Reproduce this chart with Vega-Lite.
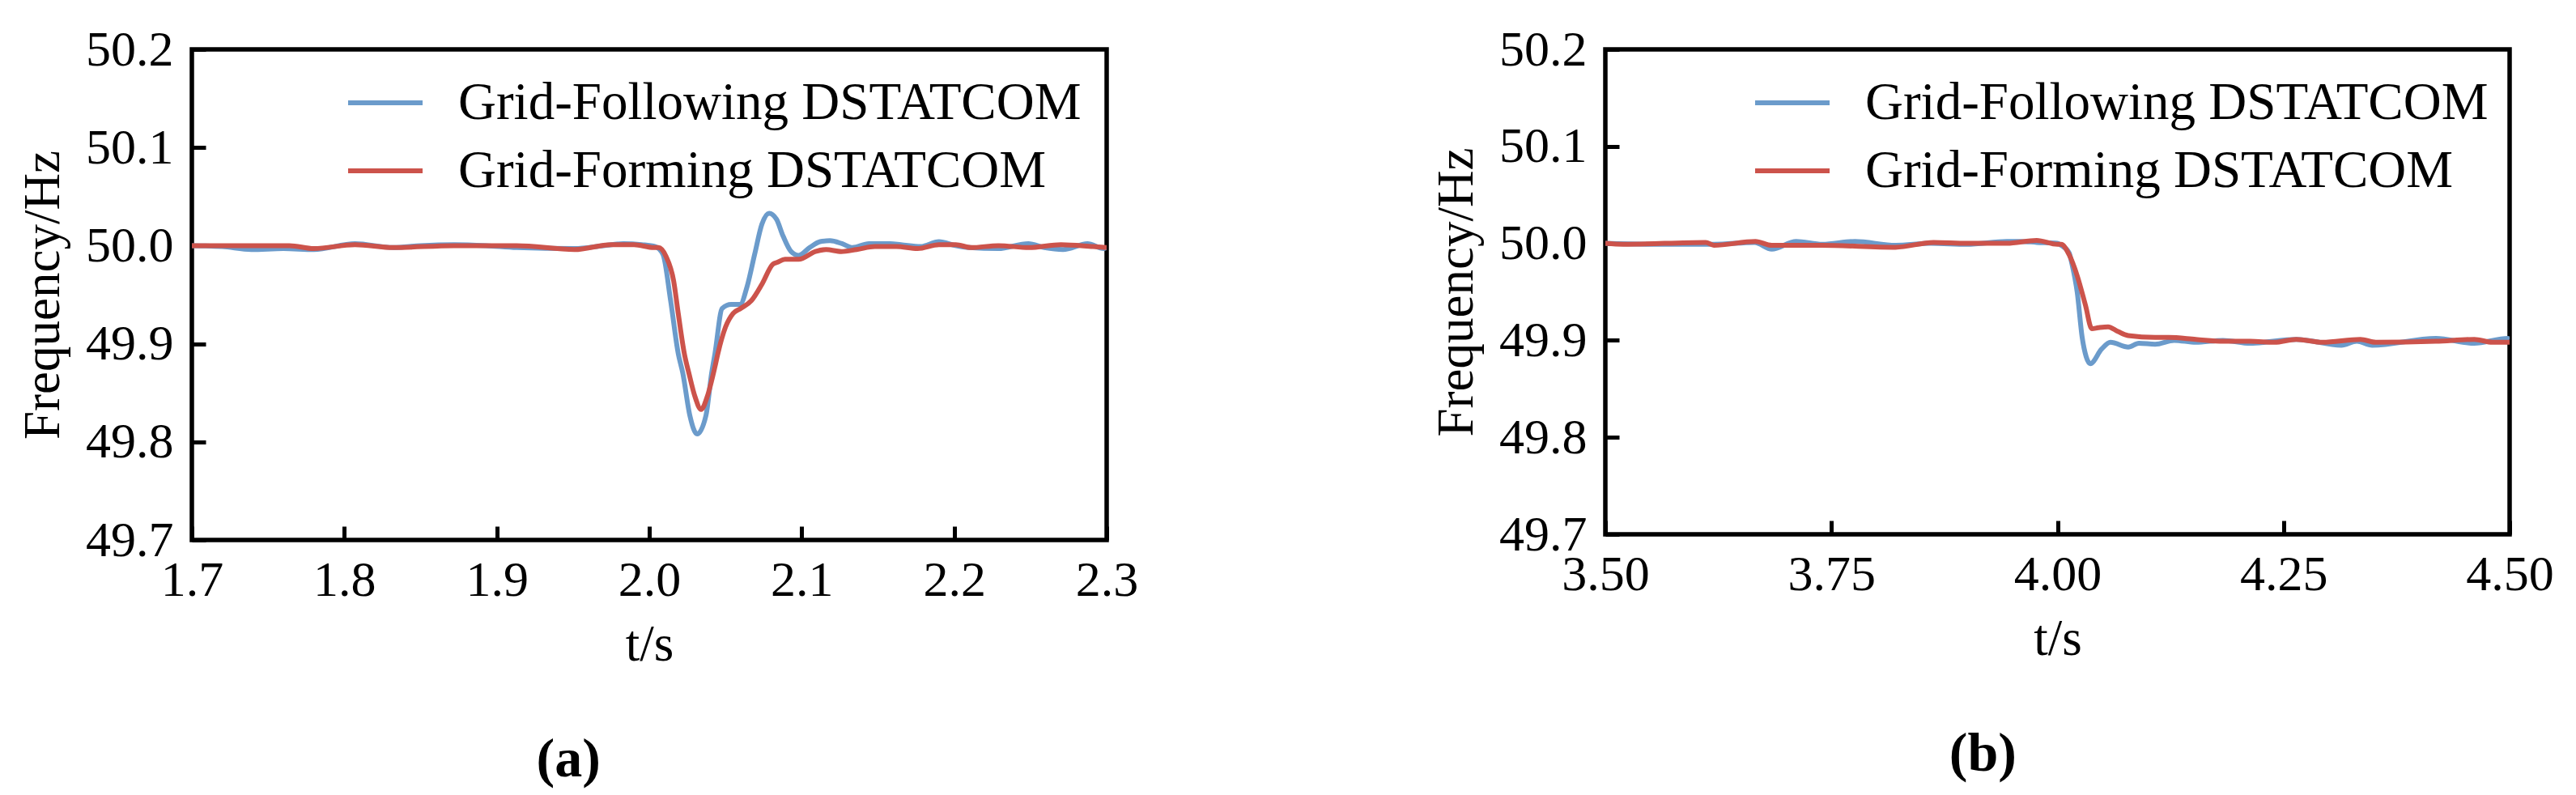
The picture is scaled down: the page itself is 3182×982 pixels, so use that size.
{
  "$schema": "https://vega.github.io/schema/vega-lite/v6.json",
  "background": "white",
  "padding": {"left": 19, "top": 27, "right": 5, "bottom": 5},
  "config": {
    "font": "Liberation Serif",
    "view": {"stroke": "black", "strokeWidth": 5.5},
    "axis": {
      "domain": false, "grid": false,
      "ticks": true, "tickSize": -17, "tickWidth": 5, "tickColor": "black",
      "labelFont": "Liberation Serif", "labelFontSize": 62, "labelColor": "black",
      "labelFlush": false, "labelOverlap": false,
      "titleFont": "Liberation Serif", "titleFontSize": 63, "titleFontWeight": "normal", "titleColor": "black"
    },
    "axisX": {"labelPadding": 36, "titlePadding": 18},
    "axisY": {"labelPadding": 40, "titlePadding": 20},
    "legend": {
      "padding": 0, "symbolType": "stroke", "symbolSize": 8464, "symbolStrokeWidth": 6,
      "labelFont": "Liberation Serif", "labelFontSize": 65, "labelColor": "black", "labelOffset": 41,
      "rowPadding": 2, "labelLimit": 2000
    },
    "title": {"font": "Liberation Serif", "color": "black", "fontSize": 68, "fontWeight": "bold"}
  },
  "resolve": {"scale": {"color": "independent"}, "legend": {"color": "independent"}},
  "spacing": 356,
  "datasets": {
    "a": [
      {"s": "Grid-Following DSTATCOM", "t": 1.700, "f": 50.000},
      {"s": "Grid-Following DSTATCOM", "t": 1.720, "f": 49.999},
      {"s": "Grid-Following DSTATCOM", "t": 1.739, "f": 49.996},
      {"s": "Grid-Following DSTATCOM", "t": 1.760, "f": 49.997},
      {"s": "Grid-Following DSTATCOM", "t": 1.780, "f": 49.996},
      {"s": "Grid-Following DSTATCOM", "t": 1.807, "f": 50.002},
      {"s": "Grid-Following DSTATCOM", "t": 1.832, "f": 49.998},
      {"s": "Grid-Following DSTATCOM", "t": 1.850, "f": 50.000},
      {"s": "Grid-Following DSTATCOM", "t": 1.872, "f": 50.001},
      {"s": "Grid-Following DSTATCOM", "t": 1.893, "f": 50.000},
      {"s": "Grid-Following DSTATCOM", "t": 1.913, "f": 49.998},
      {"s": "Grid-Following DSTATCOM", "t": 1.951, "f": 49.997},
      {"s": "Grid-Following DSTATCOM", "t": 1.970, "f": 50.000},
      {"s": "Grid-Following DSTATCOM", "t": 1.983, "f": 50.002},
      {"s": "Grid-Following DSTATCOM", "t": 1.995, "f": 50.001},
      {"s": "Grid-Following DSTATCOM", "t": 2.004, "f": 49.999},
      {"s": "Grid-Following DSTATCOM", "t": 2.009, "f": 49.991},
      {"s": "Grid-Following DSTATCOM", "t": 2.014, "f": 49.944},
      {"s": "Grid-Following DSTATCOM", "t": 2.019, "f": 49.890},
      {"s": "Grid-Following DSTATCOM", "t": 2.022, "f": 49.870},
      {"s": "Grid-Following DSTATCOM", "t": 2.0266, "f": 49.827},
      {"s": "Grid-Following DSTATCOM", "t": 2.0314, "f": 49.808},
      {"s": "Grid-Following DSTATCOM", "t": 2.0372, "f": 49.827},
      {"s": "Grid-Following DSTATCOM", "t": 2.0409, "f": 49.870},
      {"s": "Grid-Following DSTATCOM", "t": 2.0431, "f": 49.890},
      {"s": "Grid-Following DSTATCOM", "t": 2.0478, "f": 49.936},
      {"s": "Grid-Following DSTATCOM", "t": 2.0537, "f": 49.940},
      {"s": "Grid-Following DSTATCOM", "t": 2.0595, "f": 49.940},
      {"s": "Grid-Following DSTATCOM", "t": 2.0643, "f": 49.959},
      {"s": "Grid-Following DSTATCOM", "t": 2.0691, "f": 49.991},
      {"s": "Grid-Following DSTATCOM", "t": 2.0739, "f": 50.022},
      {"s": "Grid-Following DSTATCOM", "t": 2.0786, "f": 50.033},
      {"s": "Grid-Following DSTATCOM", "t": 2.0834, "f": 50.027},
      {"s": "Grid-Following DSTATCOM", "t": 2.0877, "f": 50.010},
      {"s": "Grid-Following DSTATCOM", "t": 2.093, "f": 49.994},
      {"s": "Grid-Following DSTATCOM", "t": 2.098, "f": 49.990},
      {"s": "Grid-Following DSTATCOM", "t": 2.1052, "f": 49.998},
      {"s": "Grid-Following DSTATCOM", "t": 2.112, "f": 50.004},
      {"s": "Grid-Following DSTATCOM", "t": 2.1185, "f": 50.005},
      {"s": "Grid-Following DSTATCOM", "t": 2.1264, "f": 50.002},
      {"s": "Grid-Following DSTATCOM", "t": 2.1333, "f": 49.998},
      {"s": "Grid-Following DSTATCOM", "t": 2.144, "f": 50.002},
      {"s": "Grid-Following DSTATCOM", "t": 2.158, "f": 50.002},
      {"s": "Grid-Following DSTATCOM", "t": 2.165, "f": 50.001},
      {"s": "Grid-Following DSTATCOM", "t": 2.178, "f": 49.999},
      {"s": "Grid-Following DSTATCOM", "t": 2.190, "f": 50.004},
      {"s": "Grid-Following DSTATCOM", "t": 2.2008, "f": 50.000},
      {"s": "Grid-Following DSTATCOM", "t": 2.2098, "f": 49.998},
      {"s": "Grid-Following DSTATCOM", "t": 2.2289, "f": 49.997},
      {"s": "Grid-Following DSTATCOM", "t": 2.2486, "f": 50.002},
      {"s": "Grid-Following DSTATCOM", "t": 2.2592, "f": 49.998},
      {"s": "Grid-Following DSTATCOM", "t": 2.2714, "f": 49.996},
      {"s": "Grid-Following DSTATCOM", "t": 2.2874, "f": 50.002},
      {"s": "Grid-Following DSTATCOM", "t": 2.298, "f": 49.997},
      {"s": "Grid-Following DSTATCOM", "t": 2.300, "f": 49.998},
      {"s": "Grid-Forming DSTATCOM", "t": 1.700, "f": 50.000},
      {"s": "Grid-Forming DSTATCOM", "t": 1.740, "f": 50.000},
      {"s": "Grid-Forming DSTATCOM", "t": 1.764, "f": 50.000},
      {"s": "Grid-Forming DSTATCOM", "t": 1.780, "f": 49.997},
      {"s": "Grid-Forming DSTATCOM", "t": 1.807, "f": 50.001},
      {"s": "Grid-Forming DSTATCOM", "t": 1.832, "f": 49.998},
      {"s": "Grid-Forming DSTATCOM", "t": 1.872, "f": 50.000},
      {"s": "Grid-Forming DSTATCOM", "t": 1.913, "f": 50.000},
      {"s": "Grid-Forming DSTATCOM", "t": 1.951, "f": 49.996},
      {"s": "Grid-Forming DSTATCOM", "t": 1.975, "f": 50.001},
      {"s": "Grid-Forming DSTATCOM", "t": 1.990, "f": 50.001},
      {"s": "Grid-Forming DSTATCOM", "t": 2.003, "f": 49.998},
      {"s": "Grid-Forming DSTATCOM", "t": 2.006, "f": 49.998},
      {"s": "Grid-Forming DSTATCOM", "t": 2.011, "f": 49.989},
      {"s": "Grid-Forming DSTATCOM", "t": 2.016, "f": 49.964},
      {"s": "Grid-Forming DSTATCOM", "t": 2.019, "f": 49.931},
      {"s": "Grid-Forming DSTATCOM", "t": 2.023, "f": 49.890},
      {"s": "Grid-Forming DSTATCOM", "t": 2.026, "f": 49.870},
      {"s": "Grid-Forming DSTATCOM", "t": 2.030, "f": 49.846},
      {"s": "Grid-Forming DSTATCOM", "t": 2.034, "f": 49.833},
      {"s": "Grid-Forming DSTATCOM", "t": 2.038, "f": 49.846},
      {"s": "Grid-Forming DSTATCOM", "t": 2.043, "f": 49.876},
      {"s": "Grid-Forming DSTATCOM", "t": 2.045, "f": 49.890},
      {"s": "Grid-Forming DSTATCOM", "t": 2.050, "f": 49.917},
      {"s": "Grid-Forming DSTATCOM", "t": 2.055, "f": 49.931},
      {"s": "Grid-Forming DSTATCOM", "t": 2.060, "f": 49.936},
      {"s": "Grid-Forming DSTATCOM", "t": 2.067, "f": 49.944},
      {"s": "Grid-Forming DSTATCOM", "t": 2.074, "f": 49.961},
      {"s": "Grid-Forming DSTATCOM", "t": 2.081, "f": 49.981},
      {"s": "Grid-Forming DSTATCOM", "t": 2.084, "f": 49.983},
      {"s": "Grid-Forming DSTATCOM", "t": 2.089, "f": 49.986},
      {"s": "Grid-Forming DSTATCOM", "t": 2.098, "f": 49.986},
      {"s": "Grid-Forming DSTATCOM", "t": 2.109, "f": 49.994},
      {"s": "Grid-Forming DSTATCOM", "t": 2.116, "f": 49.996},
      {"s": "Grid-Forming DSTATCOM", "t": 2.126, "f": 49.994},
      {"s": "Grid-Forming DSTATCOM", "t": 2.136, "f": 49.996},
      {"s": "Grid-Forming DSTATCOM", "t": 2.148, "f": 49.999},
      {"s": "Grid-Forming DSTATCOM", "t": 2.162, "f": 49.999},
      {"s": "Grid-Forming DSTATCOM", "t": 2.176, "f": 49.997},
      {"s": "Grid-Forming DSTATCOM", "t": 2.190, "f": 50.001},
      {"s": "Grid-Forming DSTATCOM", "t": 2.201, "f": 50.001},
      {"s": "Grid-Forming DSTATCOM", "t": 2.211, "f": 49.998},
      {"s": "Grid-Forming DSTATCOM", "t": 2.229, "f": 50.000},
      {"s": "Grid-Forming DSTATCOM", "t": 2.249, "f": 49.998},
      {"s": "Grid-Forming DSTATCOM", "t": 2.270, "f": 50.001},
      {"s": "Grid-Forming DSTATCOM", "t": 2.291, "f": 49.999},
      {"s": "Grid-Forming DSTATCOM", "t": 2.300, "f": 49.998}
    ],
    "b": [
      {"s": "Grid-Following DSTATCOM", "t": 3.500, "f": 50.000},
      {"s": "Grid-Following DSTATCOM", "t": 3.560, "f": 49.999},
      {"s": "Grid-Following DSTATCOM", "t": 3.620, "f": 49.999},
      {"s": "Grid-Following DSTATCOM", "t": 3.665, "f": 50.001},
      {"s": "Grid-Following DSTATCOM", "t": 3.684, "f": 49.994},
      {"s": "Grid-Following DSTATCOM", "t": 3.711, "f": 50.002},
      {"s": "Grid-Following DSTATCOM", "t": 3.740, "f": 49.999},
      {"s": "Grid-Following DSTATCOM", "t": 3.776, "f": 50.002},
      {"s": "Grid-Following DSTATCOM", "t": 3.821, "f": 49.998},
      {"s": "Grid-Following DSTATCOM", "t": 3.860, "f": 50.000},
      {"s": "Grid-Following DSTATCOM", "t": 3.900, "f": 49.999},
      {"s": "Grid-Following DSTATCOM", "t": 3.944, "f": 50.002},
      {"s": "Grid-Following DSTATCOM", "t": 3.959, "f": 50.002},
      {"s": "Grid-Following DSTATCOM", "t": 3.977, "f": 50.001},
      {"s": "Grid-Following DSTATCOM", "t": 4.000, "f": 50.000},
      {"s": "Grid-Following DSTATCOM", "t": 4.004, "f": 49.998},
      {"s": "Grid-Following DSTATCOM", "t": 4.013, "f": 49.990},
      {"s": "Grid-Following DSTATCOM", "t": 4.0157, "f": 49.980},
      {"s": "Grid-Following DSTATCOM", "t": 4.0219, "f": 49.949},
      {"s": "Grid-Following DSTATCOM", "t": 4.0273, "f": 49.903},
      {"s": "Grid-Following DSTATCOM", "t": 4.0318, "f": 49.883},
      {"s": "Grid-Following DSTATCOM", "t": 4.0363, "f": 49.876},
      {"s": "Grid-Following DSTATCOM", "t": 4.0488, "f": 49.891},
      {"s": "Grid-Following DSTATCOM", "t": 4.0586, "f": 49.898},
      {"s": "Grid-Following DSTATCOM", "t": 4.0783, "f": 49.893},
      {"s": "Grid-Following DSTATCOM", "t": 4.090, "f": 49.897},
      {"s": "Grid-Following DSTATCOM", "t": 4.108, "f": 49.896},
      {"s": "Grid-Following DSTATCOM", "t": 4.129, "f": 49.900},
      {"s": "Grid-Following DSTATCOM", "t": 4.153, "f": 49.898},
      {"s": "Grid-Following DSTATCOM", "t": 4.183, "f": 49.900},
      {"s": "Grid-Following DSTATCOM", "t": 4.213, "f": 49.897},
      {"s": "Grid-Following DSTATCOM", "t": 4.264, "f": 49.901},
      {"s": "Grid-Following DSTATCOM", "t": 4.314, "f": 49.895},
      {"s": "Grid-Following DSTATCOM", "t": 4.331, "f": 49.899},
      {"s": "Grid-Following DSTATCOM", "t": 4.348, "f": 49.895},
      {"s": "Grid-Following DSTATCOM", "t": 4.4185, "f": 49.902},
      {"s": "Grid-Following DSTATCOM", "t": 4.4606, "f": 49.897},
      {"s": "Grid-Following DSTATCOM", "t": 4.4982, "f": 49.902},
      {"s": "Grid-Following DSTATCOM", "t": 4.500, "f": 49.901},
      {"s": "Grid-Forming DSTATCOM", "t": 3.500, "f": 50.000},
      {"s": "Grid-Forming DSTATCOM", "t": 3.520, "f": 49.999},
      {"s": "Grid-Forming DSTATCOM", "t": 3.611, "f": 50.001},
      {"s": "Grid-Forming DSTATCOM", "t": 3.620, "f": 49.998},
      {"s": "Grid-Forming DSTATCOM", "t": 3.666, "f": 50.002},
      {"s": "Grid-Forming DSTATCOM", "t": 3.684, "f": 49.998},
      {"s": "Grid-Forming DSTATCOM", "t": 3.739, "f": 49.998},
      {"s": "Grid-Forming DSTATCOM", "t": 3.821, "f": 49.996},
      {"s": "Grid-Forming DSTATCOM", "t": 3.863, "f": 50.001},
      {"s": "Grid-Forming DSTATCOM", "t": 3.900, "f": 50.000},
      {"s": "Grid-Forming DSTATCOM", "t": 3.944, "f": 50.000},
      {"s": "Grid-Forming DSTATCOM", "t": 3.977, "f": 50.003},
      {"s": "Grid-Forming DSTATCOM", "t": 4.000, "f": 49.999},
      {"s": "Grid-Forming DSTATCOM", "t": 4.004, "f": 49.999},
      {"s": "Grid-Forming DSTATCOM", "t": 4.013, "f": 49.988},
      {"s": "Grid-Forming DSTATCOM", "t": 4.022, "f": 49.966},
      {"s": "Grid-Forming DSTATCOM", "t": 4.031, "f": 49.936},
      {"s": "Grid-Forming DSTATCOM", "t": 4.038, "f": 49.912},
      {"s": "Grid-Forming DSTATCOM", "t": 4.045, "f": 49.913},
      {"s": "Grid-Forming DSTATCOM", "t": 4.056, "f": 49.914},
      {"s": "Grid-Forming DSTATCOM", "t": 4.067, "f": 49.909},
      {"s": "Grid-Forming DSTATCOM", "t": 4.078, "f": 49.905},
      {"s": "Grid-Forming DSTATCOM", "t": 4.108, "f": 49.903},
      {"s": "Grid-Forming DSTATCOM", "t": 4.123, "f": 49.903},
      {"s": "Grid-Forming DSTATCOM", "t": 4.153, "f": 49.901},
      {"s": "Grid-Forming DSTATCOM", "t": 4.183, "f": 49.899},
      {"s": "Grid-Forming DSTATCOM", "t": 4.213, "f": 49.899},
      {"s": "Grid-Forming DSTATCOM", "t": 4.240, "f": 49.898},
      {"s": "Grid-Forming DSTATCOM", "t": 4.264, "f": 49.901},
      {"s": "Grid-Forming DSTATCOM", "t": 4.293, "f": 49.898},
      {"s": "Grid-Forming DSTATCOM", "t": 4.335, "f": 49.901},
      {"s": "Grid-Forming DSTATCOM", "t": 4.352, "f": 49.898},
      {"s": "Grid-Forming DSTATCOM", "t": 4.4185, "f": 49.899},
      {"s": "Grid-Forming DSTATCOM", "t": 4.461, "f": 49.901},
      {"s": "Grid-Forming DSTATCOM", "t": 4.481, "f": 49.898},
      {"s": "Grid-Forming DSTATCOM", "t": 4.500, "f": 49.898}
    ]
  },
  "hconcat": [
    {
      "width": 1130, "height": 606,
      "title": {"text": "(a)", "orient": "bottom", "anchor": "middle", "frame": "bounds", "offset": 77, "dx": -12},
      "data": {"name": "a"},
      "mark": {"type": "line", "strokeWidth": 6, "interpolate": "monotone", "clip": true},
      "encoding": {
        "x": {"field": "t", "type": "quantitative",
              "scale": {"domain": [1.7, 2.3], "nice": false, "zero": false},
              "axis": {"values": [1.7, 1.8, 1.9, 2.0, 2.1, 2.2, 2.3], "format": ".1f", "title": "t/s"}},
        "y": {"field": "f", "type": "quantitative",
              "scale": {"domain": [49.7, 50.2], "nice": false, "zero": false},
              "axis": {"values": [49.7, 49.8, 49.9, 50.0, 50.1, 50.2], "format": ".1f", "title": "Frequency/Hz"}},
        "color": {"field": "s", "type": "nominal",
                  "scale": {"domain": ["Grid-Following DSTATCOM", "Grid-Forming DSTATCOM"], "range": ["#6b9bcb", "#cc534b"]},
                  "legend": {"orient": "none", "legendX": 190, "legendY": 17, "title": null}}
      }
    },
    {
      "width": 1117, "height": 599,
      "title": {"text": "(b)", "orient": "bottom", "anchor": "middle", "frame": "bounds", "offset": 77, "dx": -12},
      "data": {"name": "b"},
      "mark": {"type": "line", "strokeWidth": 6, "interpolate": "monotone", "clip": true},
      "encoding": {
        "x": {"field": "t", "type": "quantitative",
              "scale": {"domain": [3.5, 4.5], "nice": false, "zero": false},
              "axis": {"values": [3.5, 3.75, 4.0, 4.25, 4.5], "format": ".2f", "title": "t/s"}},
        "y": {"field": "f", "type": "quantitative",
              "scale": {"domain": [49.7, 50.2], "nice": false, "zero": false},
              "axis": {"values": [49.7, 49.8, 49.9, 50.0, 50.1, 50.2], "format": ".1f", "title": "Frequency/Hz"}},
        "color": {"field": "s", "type": "nominal",
                  "scale": {"domain": ["Grid-Following DSTATCOM", "Grid-Forming DSTATCOM"], "range": ["#6b9bcb", "#cc534b"]},
                  "legend": {"orient": "none", "legendX": 182, "legendY": 17, "title": null}}
      }
    }
  ]
}
